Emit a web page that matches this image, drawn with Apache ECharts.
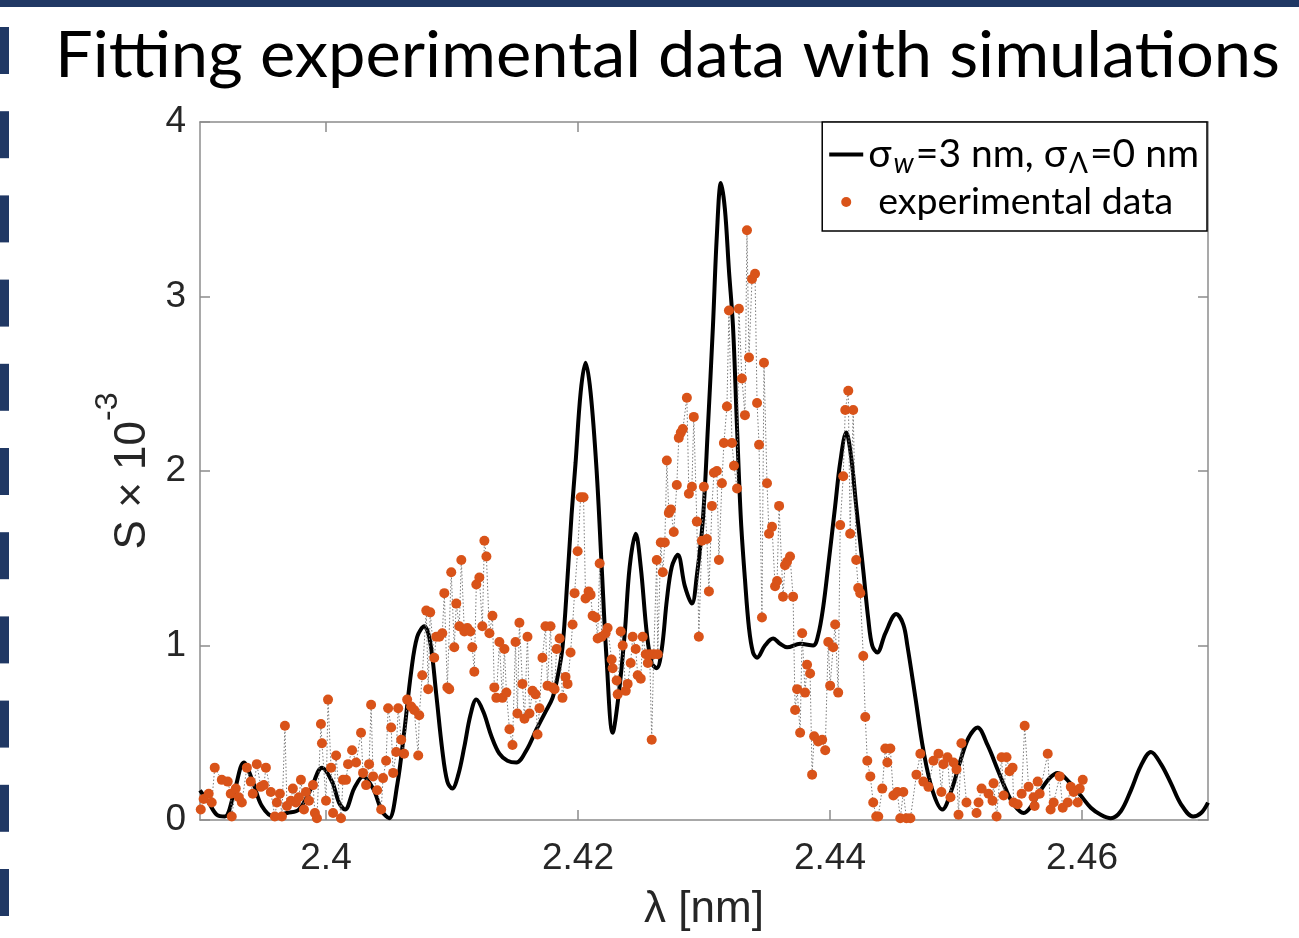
<!DOCTYPE html>
<html><head><meta charset="utf-8">
<script src="https://cdn.jsdelivr.net/npm/echarts@6/dist/echarts.min.js"></script>
<style>html,body{margin:0;padding:0;background:#fff}#c{width:1299px;height:938px}</style>
</head><body><div id="c"></div>
<script>
const titleText = 'Fitting experimental data with simulations';
const xTicks = [2.40, 2.42, 2.44, 2.46];
const yTicks = [0, 1, 2, 3, 4];

// simulation curve (sigma_w = 3 nm, sigma_Lambda = 0 nm)
const simX = [2.39,2.39069,2.39133,2.39197,2.39268,2.39348,2.39419,2.39491,2.39586,2.3969,2.39785,2.39881,2.39968,2.40048,2.40103,2.40151,2.40223,2.40294,2.40374,2.40445,2.40501,2.40565,2.40620,2.40676,2.40724,2.40780,2.40827,2.40875,2.40923,2.40963,2.41002,2.41050,2.41098,2.41146,2.41193,2.41249,2.41313,2.41376,2.41440,2.41511,2.41591,2.41671,2.41742,2.41798,2.41838,2.41877,2.41917,2.41949,2.41981,2.42021,2.42060,2.42100,2.42148,2.42188,2.42227,2.42275,2.42323,2.42371,2.42410,2.42458,2.42498,2.42546,2.42585,2.42625,2.42665,2.42705,2.42744,2.42792,2.42848,2.42904,2.42943,2.42991,2.43031,2.43071,2.43102,2.43134,2.43166,2.43198,2.43230,2.43262,2.43293,2.43325,2.43357,2.43389,2.43421,2.43484,2.43548,2.43604,2.43659,2.43763,2.43866,2.43906,2.43946,2.43985,2.44041,2.44081,2.44129,2.44168,2.44208,2.44264,2.44304,2.44335,2.44375,2.44439,2.44526,2.44582,2.44614,2.44678,2.44741,2.44813,2.44892,2.44964,2.45035,2.45099,2.45171,2.45250,2.45330,2.45393,2.45457,2.45537,2.45608,2.45672,2.45743,2.45807,2.45895,2.45990,2.46070,2.46149,2.46229,2.46308,2.46388,2.46467,2.46547,2.46627,2.46706,2.46786,2.46881,2.46945,2.47];
const simY = [0.17,0.10,0.03,0.02,0.15,0.33,0.22,0.08,0.02,0.04,0.06,0.18,0.30,0.22,0.10,0.06,0.18,0.25,0.18,0.05,0.01,0.20,0.50,0.85,1.05,1.11,1.02,0.72,0.40,0.22,0.18,0.26,0.42,0.60,0.69,0.62,0.48,0.38,0.34,0.33,0.40,0.52,0.62,0.70,0.82,0.99,1.39,1.75,2.05,2.45,2.62,2.45,2.0,1.45,0.92,0.50,0.72,1.07,1.45,1.64,1.45,1.07,0.90,0.87,0.98,1.26,1.45,1.52,1.34,1.24,1.40,1.72,2.25,2.83,3.35,3.65,3.5,3.15,2.83,2.25,1.72,1.38,1.10,0.96,0.93,1.0,1.04,1.01,0.99,1.01,1.00,1.06,1.22,1.45,1.80,2.05,2.22,2.08,1.80,1.43,1.15,1.0,0.96,1.07,1.18,1.12,1.0,0.7,0.40,0.17,0.06,0.17,0.34,0.47,0.53,0.43,0.29,0.18,0.09,0.04,0.09,0.17,0.24,0.27,0.22,0.14,0.07,0.03,0.01,0.05,0.17,0.31,0.39,0.32,0.21,0.09,0.02,0.04,0.10];

// experimental data
const expX = [2.39006,2.39029,2.39069,2.39093,2.39117,2.39173,2.39220,2.39244,2.39252,2.39284,2.39308,2.39332,2.39372,2.39403,2.39419,2.39451,2.39483,2.39507,2.39523,2.39562,2.39594,2.39610,2.39634,2.39650,2.39674,2.39690,2.39722,2.39737,2.39761,2.39785,2.39801,2.39825,2.39841,2.39865,2.39897,2.39912,2.39928,2.39960,2.39968,2.40000,2.40016,2.40040,2.40056,2.40080,2.40119,2.40135,2.40159,2.40175,2.40207,2.40239,2.40278,2.40294,2.40318,2.40342,2.40358,2.40374,2.40406,2.40438,2.40453,2.40477,2.40493,2.40517,2.40533,2.40557,2.40573,2.40597,2.40620,2.40644,2.40676,2.40700,2.40732,2.40740,2.40764,2.40796,2.40811,2.40827,2.40859,2.40875,2.40899,2.40923,2.40939,2.40963,2.40978,2.40994,2.41018,2.41034,2.41058,2.41074,2.41098,2.41122,2.41146,2.41161,2.41177,2.41193,2.41217,2.41241,2.41257,2.41273,2.41297,2.41321,2.41336,2.41352,2.41376,2.41400,2.41416,2.41432,2.41456,2.41480,2.41504,2.41519,2.41535,2.41559,2.41575,2.41599,2.41615,2.41639,2.41663,2.41679,2.41694,2.41718,2.41742,2.41758,2.41782,2.41798,2.41814,2.41830,2.41854,2.41877,2.41901,2.41917,2.41941,2.41957,2.41973,2.41997,2.42021,2.42044,2.42060,2.42084,2.42100,2.42116,2.42140,2.42156,2.42172,2.42188,2.42219,2.42235,2.42267,2.42275,2.42307,2.42315,2.42339,2.42355,2.42379,2.42394,2.42418,2.42434,2.42458,2.42474,2.42498,2.42514,2.42538,2.42554,2.42569,2.42585,2.42601,2.42625,2.42633,2.42657,2.42673,2.42689,2.42705,2.42721,2.42737,2.42760,2.42784,2.42800,2.42816,2.42832,2.42864,2.42880,2.42904,2.42919,2.42943,2.42959,2.42983,2.42999,2.43023,2.43039,2.43063,2.43079,2.43102,2.43118,2.43142,2.43158,2.43182,2.43198,2.43222,2.43238,2.43262,2.43277,2.43301,2.43325,2.43341,2.43357,2.43381,2.43405,2.43421,2.43437,2.43460,2.43476,2.43500,2.43516,2.43540,2.43564,2.43580,2.43596,2.43627,2.43643,2.43659,2.43683,2.43707,2.43723,2.43739,2.43763,2.43779,2.43802,2.43818,2.43842,2.43858,2.43874,2.43906,2.43938,2.43962,2.43986,2.44001,2.44025,2.44041,2.44065,2.44081,2.44105,2.44121,2.44145,2.44160,2.44184,2.44208,2.44224,2.44240,2.44264,2.44280,2.44296,2.44320,2.44343,2.44367,2.44383,2.44415,2.44439,2.44455,2.44479,2.44503,2.44534,2.44558,2.44582,2.44606,2.44638,2.44686,2.44717,2.44741,2.44781,2.44821,2.44861,2.44884,2.44900,2.44932,2.44956,2.44980,2.45004,2.45020,2.45043,2.45083,2.45163,2.45179,2.45203,2.45258,2.45290,2.45298,2.45322,2.45362,2.45378,2.45401,2.45425,2.45449,2.45457,2.45489,2.45521,2.45545,2.45576,2.45616,2.45624,2.45648,2.45664,2.45728,2.45751,2.45775,2.45823,2.45847,2.45887,2.45911,2.45934,2.45966,2.45982,2.46006];
const expY = [0.06,0.12,0.15,0.10,0.30,0.23,0.22,0.15,0.02,0.18,0.13,0.10,0.30,0.22,0.15,0.32,0.19,0.20,0.30,0.16,0.02,0.10,0.15,0.02,0.54,0.08,0.11,0.18,0.10,0.13,0.23,0.06,0.16,0.11,0.20,0.04,0.01,0.55,0.44,0.11,0.69,0.30,0.04,0.37,0.01,0.23,0.23,0.32,0.40,0.33,0.50,0.27,0.20,0.32,0.66,0.25,0.17,0.06,0.24,0.34,0.64,0.53,0.27,0.39,0.64,0.46,0.38,0.69,0.65,0.63,0.37,0.60,0.83,1.20,0.75,1.19,0.93,1.05,1.05,1.07,1.30,0.76,0.75,1.42,0.99,1.24,1.11,1.49,1.08,1.10,1.08,0.99,0.85,1.35,1.39,1.11,1.60,1.51,1.07,1.17,0.76,0.70,1.02,0.70,0.98,0.73,0.52,0.43,1.02,0.61,1.13,0.78,0.58,1.05,0.61,0.74,0.72,0.49,0.64,0.93,1.11,0.77,1.11,0.76,0.75,0.98,1.04,0.70,0.82,0.78,0.96,1.12,1.30,1.54,1.85,1.85,1.27,1.31,1.29,1.17,1.16,1.04,1.47,1.05,1.07,1.10,0.92,0.87,0.80,0.72,1.08,1.00,0.74,0.78,0.90,1.05,0.98,0.83,0.81,1.05,0.95,0.90,0.95,0.46,0.95,1.49,0.95,1.59,1.42,1.59,2.06,1.76,1.78,1.65,1.92,2.19,2.22,2.24,2.42,1.87,1.91,2.31,1.71,1.05,1.60,1.91,1.61,1.31,1.80,1.99,2.00,1.49,1.93,2.16,2.37,2.92,2.16,2.03,1.90,2.93,2.53,2.32,3.38,2.65,3.10,3.13,2.39,2.15,1.16,2.62,1.93,1.64,1.68,1.34,1.37,1.80,1.28,1.46,1.48,1.51,1.28,0.63,0.75,0.50,1.07,0.73,0.89,0.84,0.26,0.48,0.45,0.46,0.40,1.02,0.77,0.99,1.12,0.73,1.69,1.97,2.35,2.46,1.64,2.35,1.49,1.33,1.30,0.94,0.59,0.34,0.25,0.10,0.02,0.02,0.18,0.41,0.33,0.41,0.14,0.16,0.01,0.16,0.01,0.01,0.26,0.38,0.22,0.19,0.34,0.38,0.16,0.32,0.36,0.13,0.33,0.29,0.03,0.44,0.10,0.04,0.10,0.18,0.15,0.11,0.21,0.02,0.36,0.14,0.36,0.28,0.30,0.10,0.09,0.15,0.54,0.19,0.13,0.08,0.22,0.15,0.38,0.06,0.10,0.25,0.07,0.10,0.19,0.16,0.10,0.18,0.23];

const AXIS_COLOR = '#8c8c8c';
const LABEL_COLOR = '#262626';
const NUM_FONT = 'Liberation Sans';
const LEG_FONT = 'Lato';
const LEG_SIZE = 37.5;

// title width fit
const cv = document.createElement('canvas').getContext('2d');
cv.font = '64px Lato';
const titleW = cv.measureText(titleText).width;
const titleScale = 1225 / titleW;

const graphics = [
  { type: 'rect', shape: { x: 0, y: 0, width: 1299, height: 7 }, style: { fill: '#203864' }, z: 10 },
  { type: 'text', x: 55, y: 24, scaleX: titleScale, style: { text: titleText, font: '64px Lato', fill: '#000', verticalAlign: 'top' } }
];
for (let k = 0; k < 11; k++) {
  graphics.push({ type: 'rect', shape: { x: 0, y: 27 + 84.2 * k, width: 9, height: 47 }, style: { fill: '#203864' } });
}

const chart = echarts.init(document.getElementById('c'), null, { renderer: 'canvas' });
const xBase = {
  type: 'value', min: 2.39, max: 2.47,
  splitLine: { show: false },
  axisLine: { show: true, onZero: false, lineStyle: { color: AXIS_COLOR, width: 1.5 } },
  axisTick: { show: true, inside: true, length: 10, customValues: xTicks, lineStyle: { color: AXIS_COLOR, width: 1.5 } }
};
const yBase = {
  type: 'value', min: 0, max: 4, interval: 1,
  splitLine: { show: false },
  axisLine: { show: true, onZero: false, lineStyle: { color: AXIS_COLOR, width: 1.5 } },
  axisTick: { show: true, inside: true, length: 10, lineStyle: { color: AXIS_COLOR, width: 1.5 } }
};

chart.setOption({
  animation: false,
  backgroundColor: '#fff',
  graphic: graphics,
  grid: { left: 200, top: 122, right: 91, bottom: 118, containLabel: false },
  legend: {
    orient: 'vertical', right: 92, top: 122,
    backgroundColor: '#fff', borderColor: '#000', borderWidth: 1.5, borderRadius: 0,
    padding: [13, 8, 10, 7], itemGap: 5, itemWidth: 34, itemHeight: 10,
    selectedMode: false,
    data: [
      { name: 'sim', icon: 'path://M0,0 L34,0 L34,4 L0,4 Z' },
      { name: 'exp', icon: 'circle' }
    ],
    formatter: function (name) {
      return name === 'sim'
        ? '{g|σ}{s|w}{g|=3 nm, σ}{s2|Λ}{g|=0 nm}'
        : '{e|experimental data}';
    },
    textStyle: {
      color: '#000', fontFamily: LEG_FONT, fontSize: LEG_SIZE,
      rich: {
        g: { fontFamily: LEG_FONT, fontSize: 39, color: '#000', lineHeight: 47, verticalAlign: 'middle' },
        s: { fontFamily: LEG_FONT, fontSize: 28, fontStyle: 'italic', color: '#000', lineHeight: 47, verticalAlign: 'bottom', padding: [0, 2, 0, 2] },
        s2: { fontFamily: LEG_FONT, fontSize: 28, color: '#000', lineHeight: 47, verticalAlign: 'bottom', padding: [0, 2, 0, 2] },
        e: { fontFamily: LEG_FONT, fontSize: LEG_SIZE, color: '#000', lineHeight: 47, padding: [0, 0, 0, 10] }
      }
    }
  },
  xAxis: [
    Object.assign({}, xBase, {
      position: 'bottom',
      axisLabel: { customValues: xTicks, fontFamily: NUM_FONT, fontSize: 37, color: LABEL_COLOR, margin: 20 },
      name: 'λ [nm]', nameLocation: 'middle', nameGap: 68,
      nameTextStyle: { fontFamily: NUM_FONT, fontSize: 44, color: LABEL_COLOR }
    }),
    Object.assign({}, xBase, { position: 'top', axisLabel: { show: false } })
  ],
  yAxis: [
    Object.assign({}, yBase, {
      position: 'left',
      axisLabel: { fontFamily: NUM_FONT, fontSize: 37, color: LABEL_COLOR, margin: 14 },
      name: '{a|S × 10}{b|-3}', nameLocation: 'middle', nameRotate: 90, nameGap: 41,
      nameTextStyle: {
        fontFamily: NUM_FONT, fontSize: 44, color: LABEL_COLOR,
        rich: {
          a: { fontFamily: NUM_FONT, fontSize: 44, color: LABEL_COLOR, lineHeight: 62, verticalAlign: 'bottom' },
          b: { fontFamily: NUM_FONT, fontSize: 32, color: LABEL_COLOR, lineHeight: 62, verticalAlign: 'top' }
        }
      }
    }),
    Object.assign({}, yBase, { position: 'right', axisLabel: { show: false } })
  ],
  series: [
    {
      name: 'sim', type: 'line', xAxisIndex: 0, yAxisIndex: 0,
      data: simX.map((x, i) => [x, simY[i]]),
      smooth: 0.35, symbol: 'none', clip: true,
      lineStyle: { color: '#000', width: 4 }, itemStyle: { color: '#000' }, z: 2
    },
    {
      name: 'exp', type: 'line', xAxisIndex: 0, yAxisIndex: 0,
      data: expX.map((x, i) => [x, expY[i]]),
      symbol: 'circle', symbolSize: 10, showSymbol: true, clip: true,
      lineStyle: { color: '#7a7a7a', width: 1, type: [1.5, 2] },
      itemStyle: { color: '#D95319', borderWidth: 0 }, z: 3
    }
  ]
});
</script>
</body></html>
